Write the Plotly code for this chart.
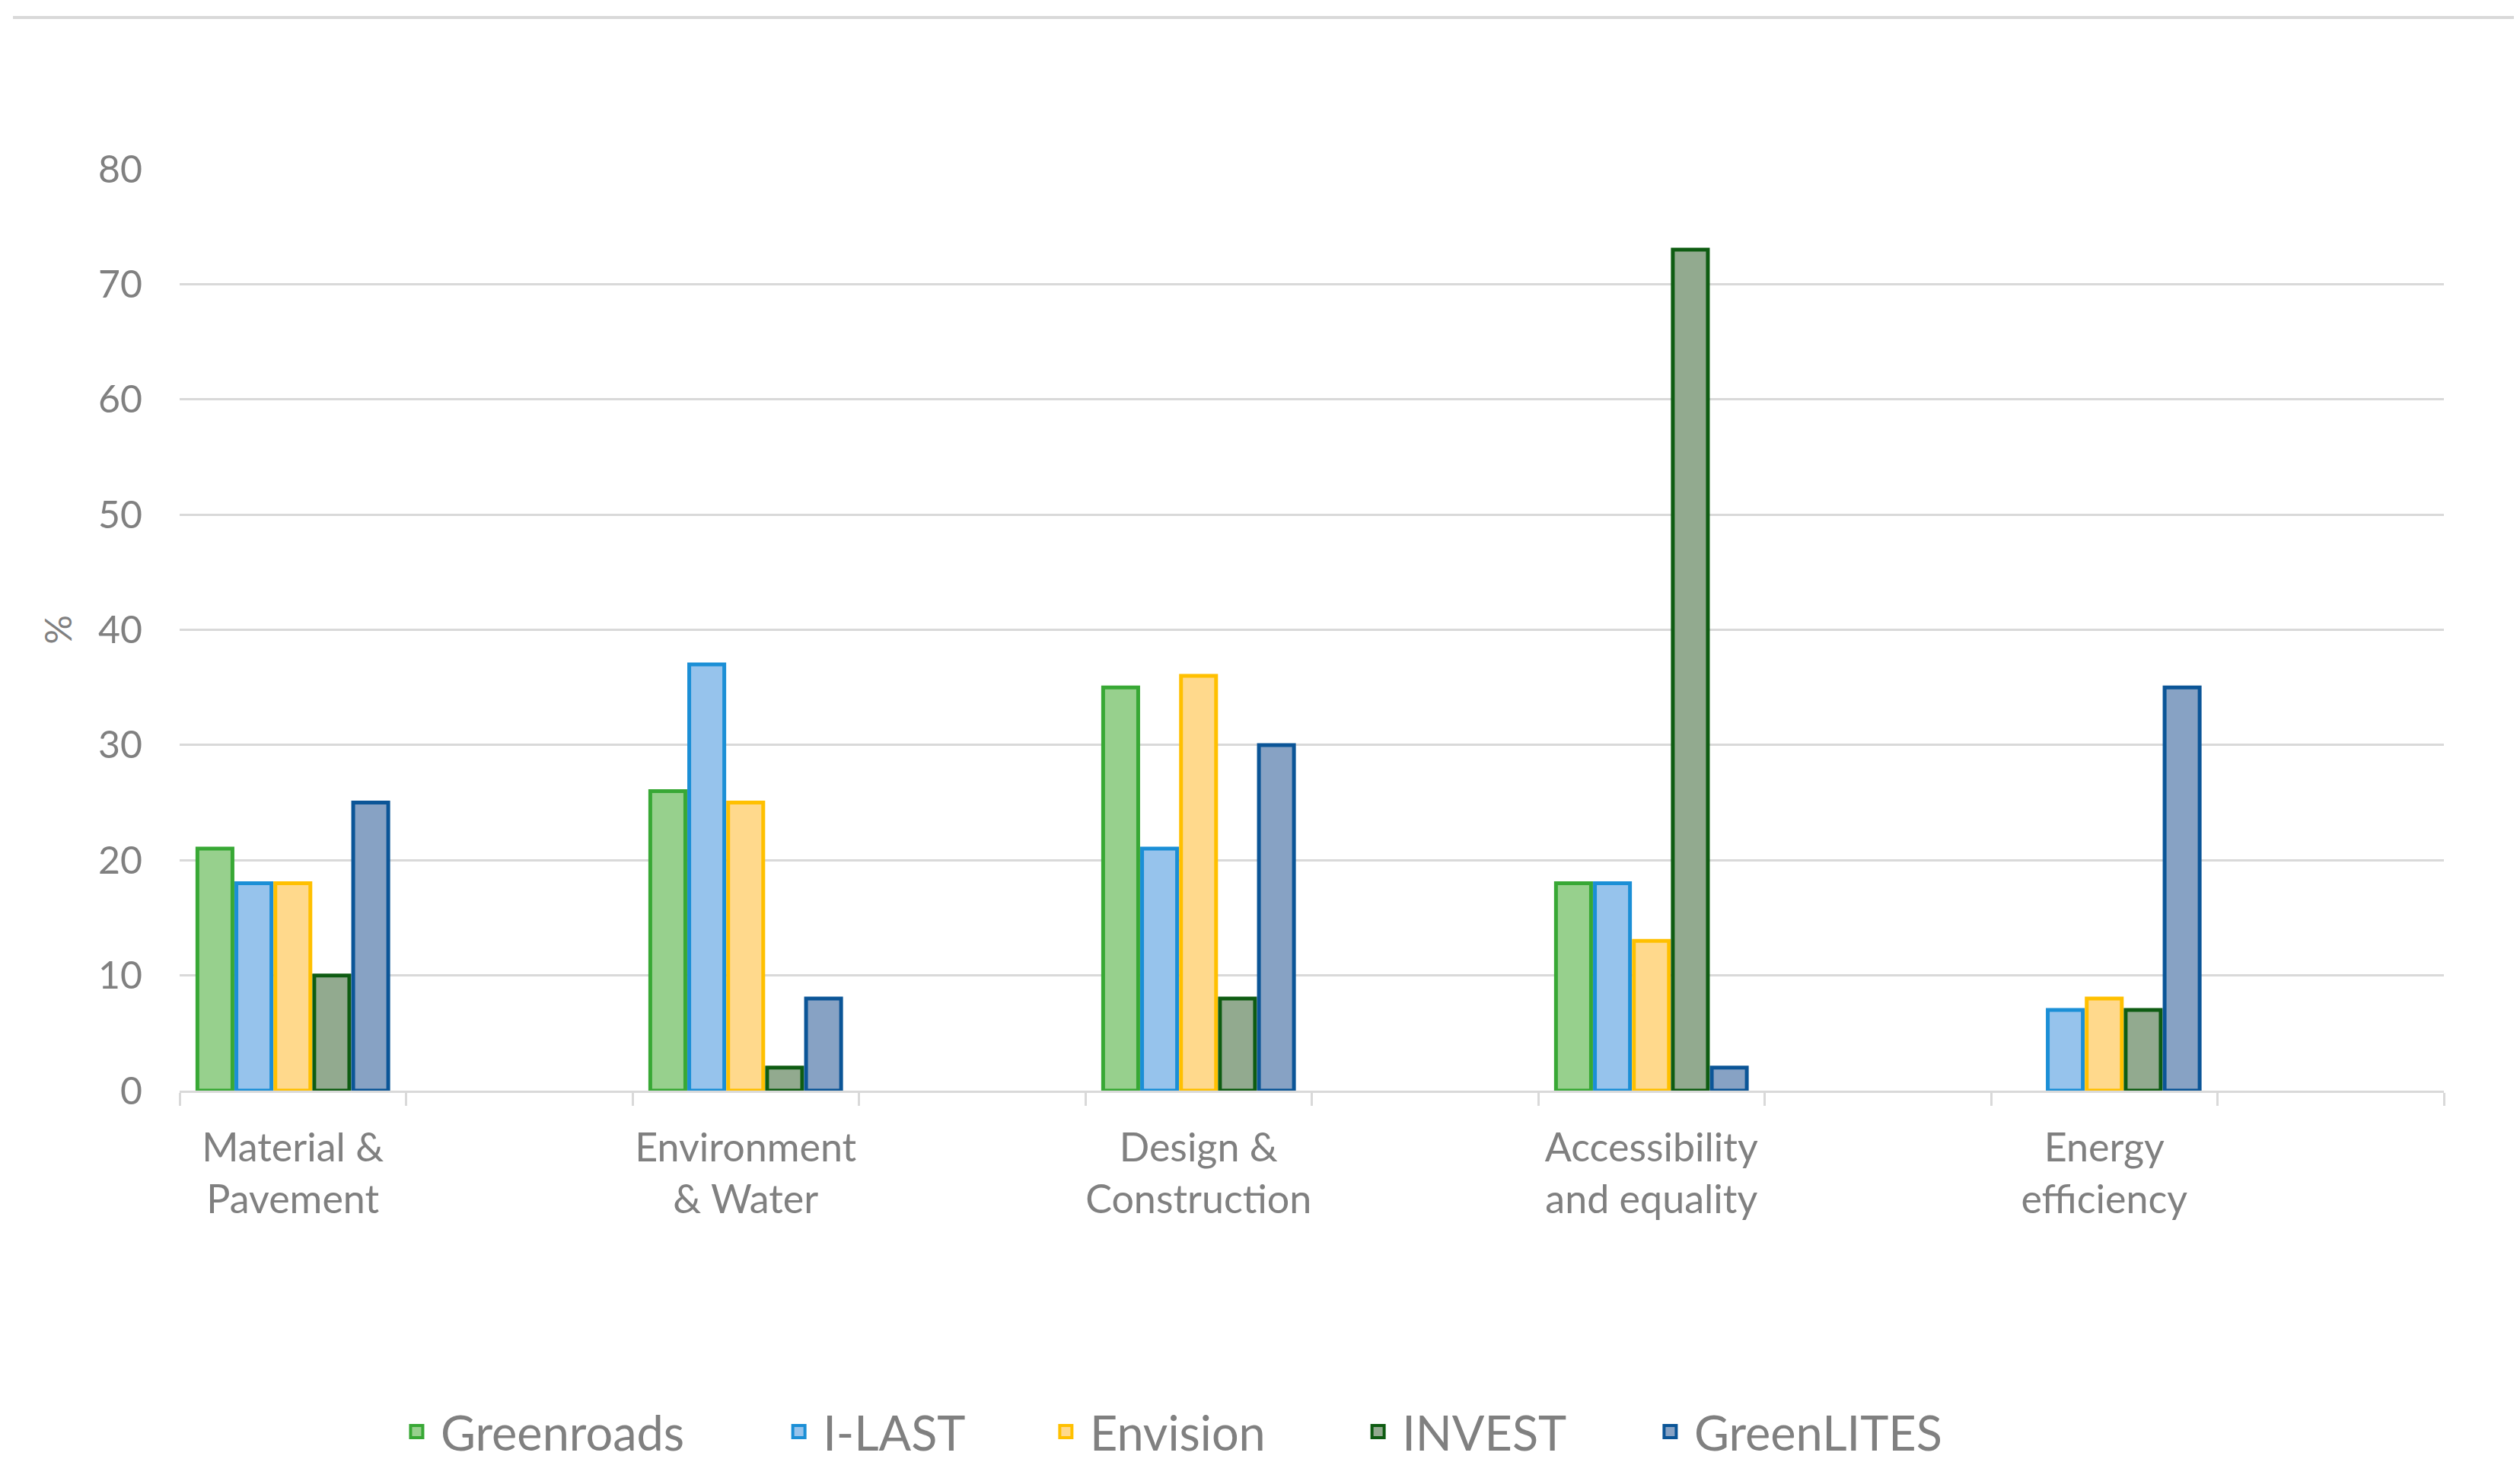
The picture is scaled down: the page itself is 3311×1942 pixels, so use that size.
import plotly.graph_objects as go

# ---- data ----
categories = ["Material &<br>Pavement", "", "Environment<br>& Water", "",
              "Design &<br>Construction", "", "Accessibility<br>and equality", "",
              "Energy<br>efficiency", ""]
greenroads = [21, None, 26, None, 35, None, 18, None, None, None]
ilast      = [18, None, 37, None, 21, None, 18, None, 7, None]
envision   = [18, None, 25, None, 36, None, 13, None, 8, None]
invest     = [10, None, 2, None, 8, None, 73, None, 7, None]
greenlites = [25, None, 8, None, 30, None, 2, None, 35, None]
series_names = ["Greenroads", "I-LAST", "Envision", "INVEST", "GreenLITES"]
y_ticks = [0, 10, 20, 30, 40, 50, 60, 70, 80]

# ---- styles ----
fills = ["#97d08d", "#96c3ec", "#ffd98c", "#92aa8f", "#87a2c4"]
lines = ["#38a835", "#1b8fd6", "#ffc000", "#0e5c12", "#0b5597"]
legend_x = [0.0941, 0.2629, 0.3808, 0.5187, 0.6477]
TXT = "#808080"
GRID = "#d9d9d9"
FONT = "Lato"

x_pos = list(range(len(categories)))
label_pos = [i for i, c in enumerate(categories) if c]
label_txt = [c for c in categories if c]

fig = go.Figure()
for k, (name, vals, fc, lc) in enumerate(zip(series_names,
                              [greenroads, ilast, envision, invest, greenlites],
                              fills, lines)):
    fig.add_trace(go.Bar(
        x=x_pos, y=vals, name=name, showlegend=False, legendgroup=name,
        marker=dict(color=fc, line=dict(color=lc, width=5)),
    ))
    lg = "legend" if k == 0 else f"legend{k+1}"
    # legend swatch (larger square than the default bar swatch)
    fig.add_trace(go.Scatter(
        x=[None], y=[None], mode="markers", name=name, legendgroup=name,
        legend=lg, showlegend=True,
        marker=dict(symbol="square", size=16, color=fc,
                    line=dict(color=lc, width=4)),
    ))

legend_common = dict(orientation="h", xanchor="left", y=-0.37, yanchor="middle",
                     font=dict(size=63, color=TXT, family=FONT),
                     bgcolor="rgba(0,0,0,0)", itemsizing="trace", itemwidth=53)
layout_legends = {}
for k in range(len(series_names)):
    key = "legend" if k == 0 else f"legend{k+1}"
    layout_legends[key] = dict(legend_common, x=legend_x[k])

fig.update_layout(
    width=3311, height=1942,
    paper_bgcolor="white", plot_bgcolor="white",
    barmode="group", bargap=0.14, bargroupgap=0.1,
    margin=dict(l=228, r=108, t=214, b=517, pad=0),
    font=dict(family=FONT, color=TXT, size=48),
    showlegend=True,
    **layout_legends,
)

fig.update_xaxes(
    range=[-0.5, len(categories) - 0.5],
    tickmode="array", tickvals=label_pos, ticktext=label_txt,
    ticks="outside", ticklen=0, tickcolor=GRID,
    minor=dict(ticks="outside", ticklen=17, tickwidth=3, tickcolor=GRID,
               tick0=-0.5, dtick=1, showgrid=False),
    showline=True, linecolor=GRID, linewidth=3,
    showgrid=False, zeroline=False,
    tickfont=dict(size=52, color=TXT, family=FONT),
    ticklabelstandoff=28,
)
fig.update_yaxes(
    range=[0, 80], tickmode="array", tickvals=y_ticks,
    showgrid=True, gridcolor=GRID, gridwidth=3,
    zeroline=False, showline=False,
    tickfont=dict(size=50, color=TXT, family=FONT),
    ticklabelstandoff=48,
)

# y-axis title "%"
fig.add_annotation(text="%", xref="paper", yref="paper", x=-0.0538, y=0.5,
                   xanchor="center", yanchor="middle", textangle=-90,
                   showarrow=False, font=dict(size=48, color=TXT, family=FONT))

# thin frame line at the top of the chart
fig.add_shape(type="line", xref="paper", yref="paper",
              x0=-0.0736, x1=1.04, y0=1.1643, y1=1.1643,
              line=dict(color=GRID, width=4))

fig.write_html("out.html")
